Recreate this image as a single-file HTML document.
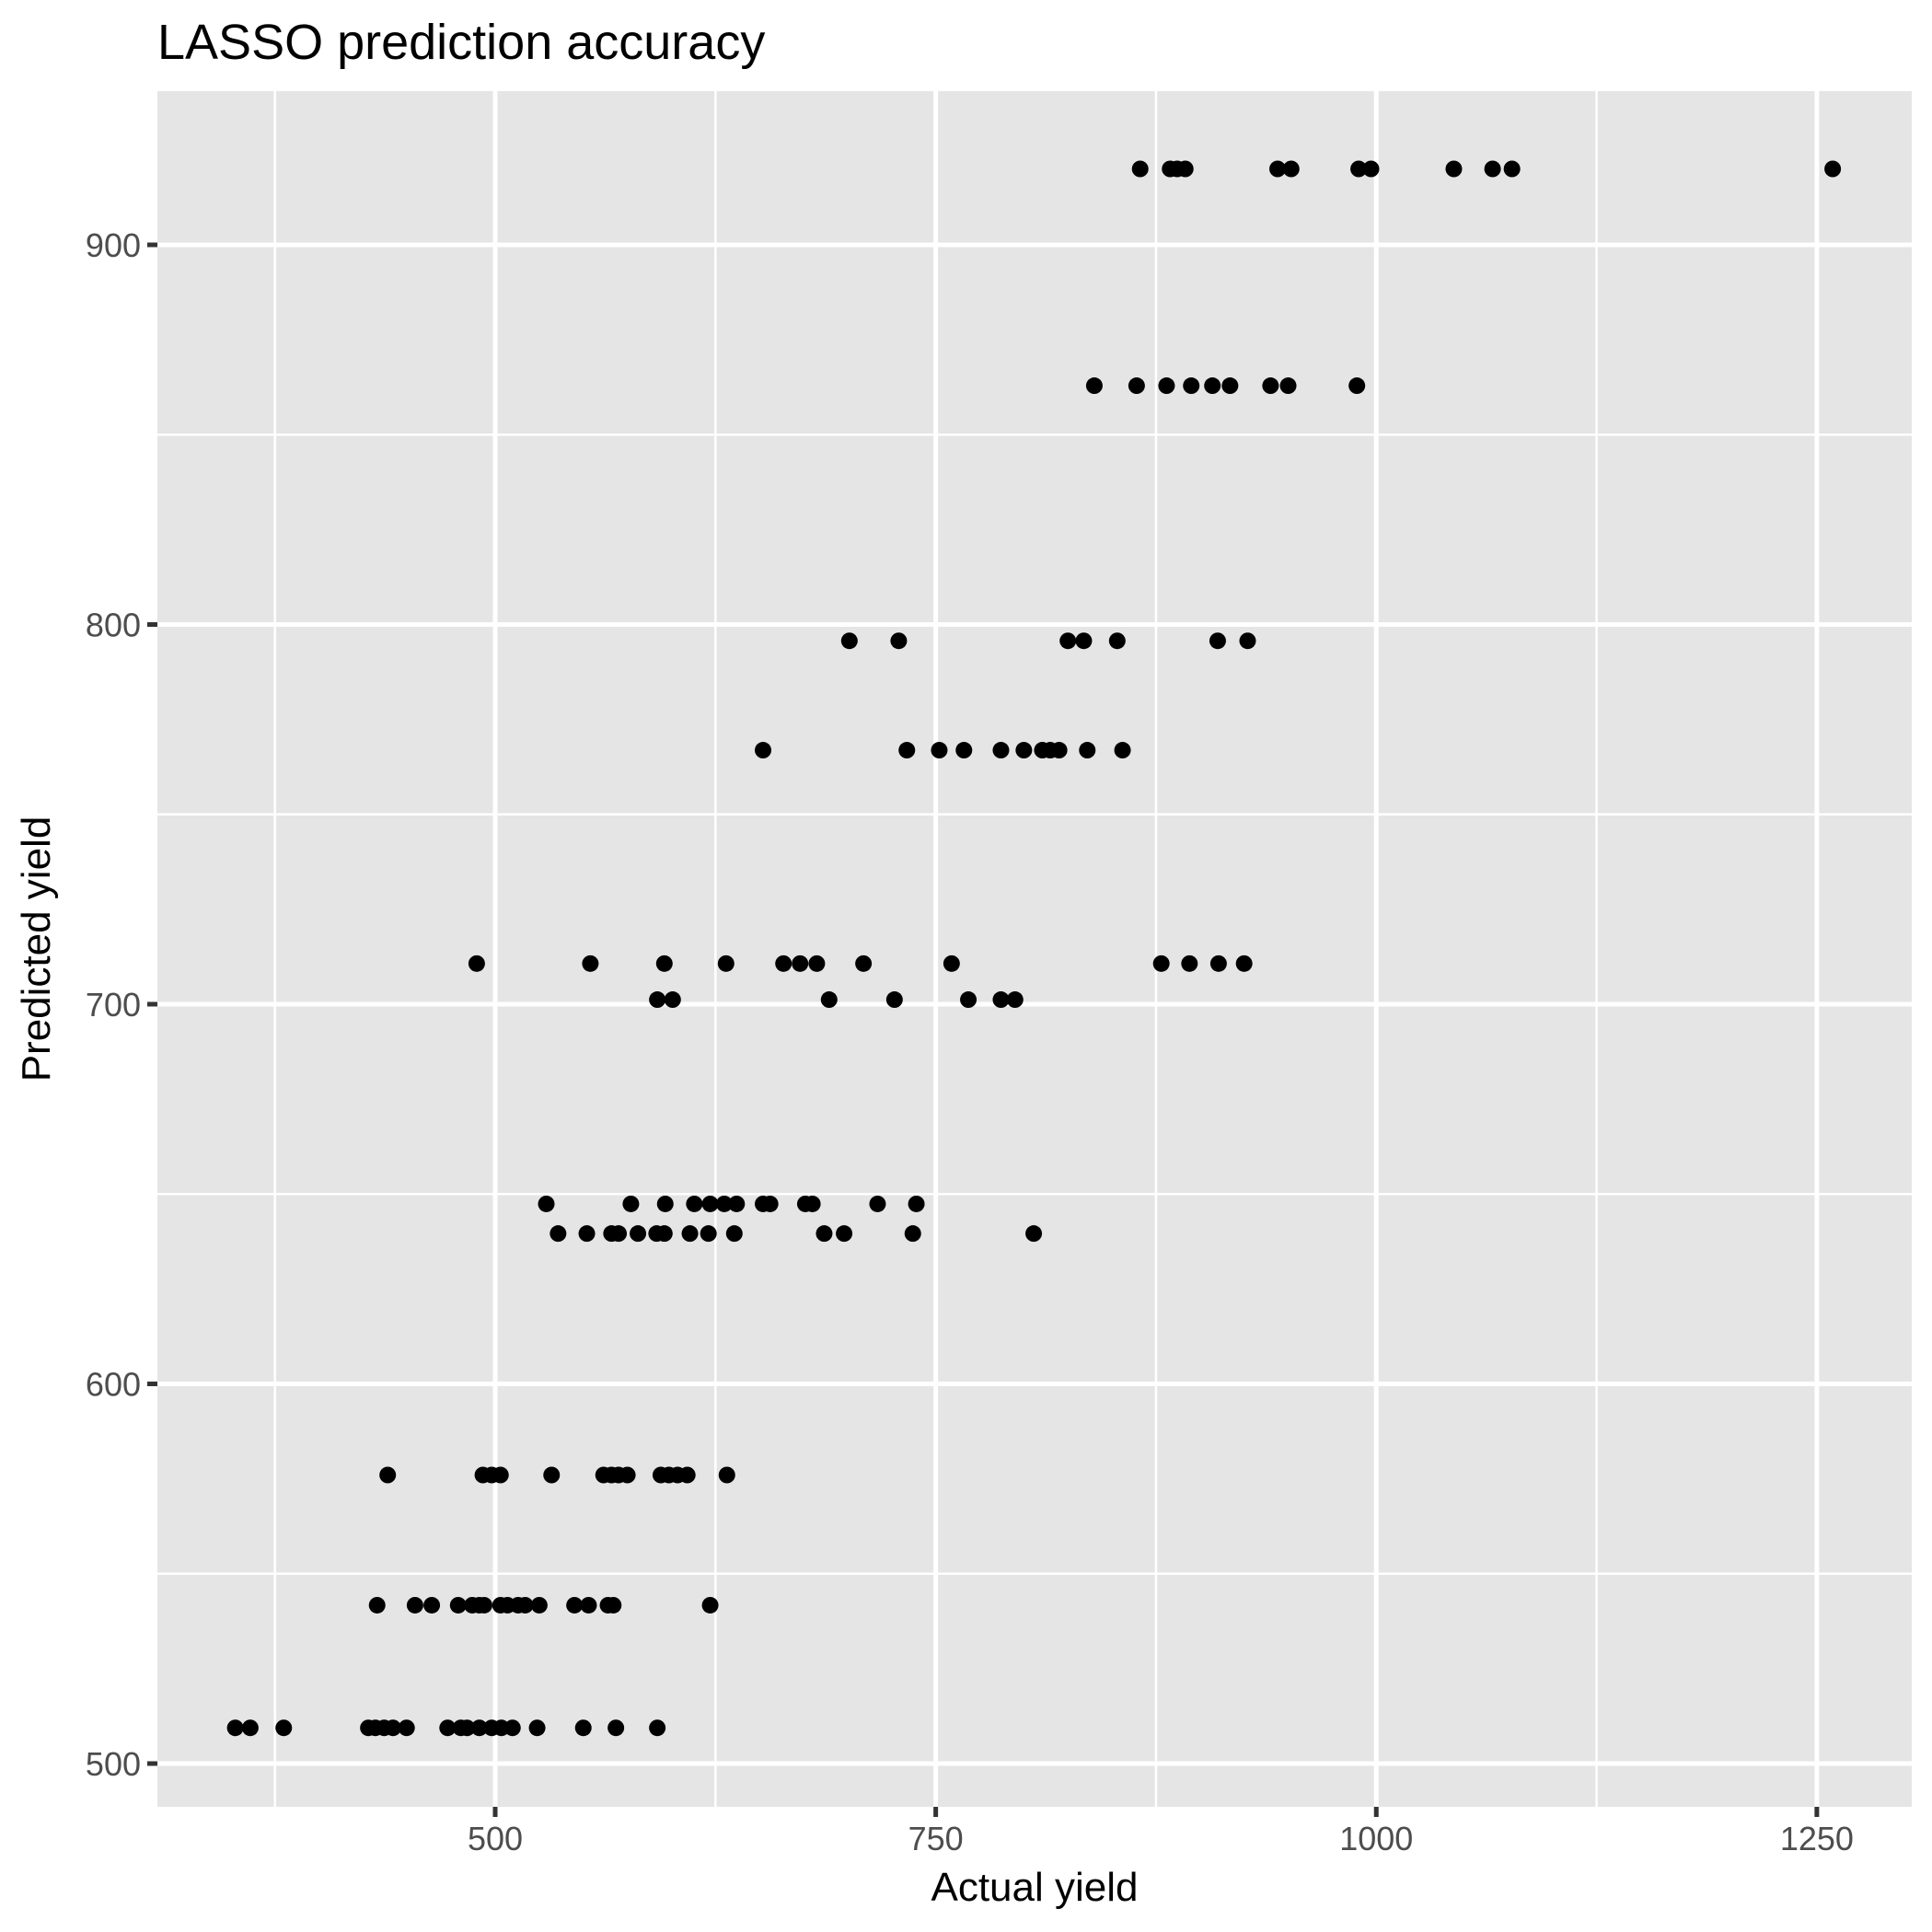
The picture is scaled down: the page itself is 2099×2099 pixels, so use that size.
<!DOCTYPE html>
<html><head><meta charset="utf-8"><style>
html,body{margin:0;padding:0;background:#fff}
svg{display:block;font-family:"Liberation Sans",Arial,sans-serif}
</style></head><body>
<svg id="chart" width="2099" height="2099" viewBox="0 0 2099 2099" xmlns="http://www.w3.org/2000/svg">
<rect x="0" y="0" width="2099" height="2099" fill="#fff"/>
<text x="171" y="64" font-size="54" fill="#000">LASSO prediction accuracy</text>
<rect x="171" y="99" width="1906" height="1864" fill="#e5e5e5"/>
<g id="grid"></g><g id="axes"></g><g id="points"></g>
<text x="1124" y="2065" font-size="44" text-anchor="middle" fill="#000">Actual yield</text>
<text transform="translate(54,1031) rotate(-90)" font-size="44" text-anchor="middle" fill="#000">Predicted yield</text>
</svg>
<script>
const xTicks=[500,750,1000,1250];
const xMinor=[375,625,875,1125];
const yTicks=[500,600,700,800,900];
const yMinor=[550,650,750,850];
const rowY=[920,862.9,795.7,766.9,710.7,701.2,647.4,639.6,576,541.7,509.4];
const row0=[866,883,887,891.6,944,951.7,990,997,1044,1066,1077,1259];
const row1=[840,864,881,895,907,917,940,950,989];
const row2=[701,729,825,834,853,910,927];
const row3=[652,733.6,752,766,787,800,810.5,815,820,836,856];
const row4=[489.5,554,596,631,663.6,673,682.5,709,759,878,894,910.5,925];
const row5=[592,600.7,689.5,726.6,768.5,787,795];
const row6=[529,577,596.5,613,622,630,637,652,656,676,680,717,739];
const row7=[535.7,552,566,570,581,591.6,596,610.5,621,635.7,686.7,698,737,805.6];
const row8=[439,493,498,503,532,561.5,566,570,575,594,598.6,603.5,609,631.5];
const row9=[433,454.5,464,479,487,491,493.7,503,507,513,517,525,545,553,564,567,622];
const row10=[352.5,361,380,428,432,437,442,449.7,473,480.5,484,491,498,503.5,509.8,523.8,550,568.5,592];
const rows=[row0,row1,row2,row3,row4,row5,row6,row7,row8,row9,row10];

const PL=171,PR=2077,PT=99,PB=1963;
const xs=v=>538+(v-500)*1.9145;
const ys=v=>266+(900-v)*4.125;
const NS="http://www.w3.org/2000/svg";
function mk(tag,attrs,parent){const e=document.createElementNS(NS,tag);for(const k in attrs)e.setAttribute(k,attrs[k]);parent.appendChild(e);return e;}
const grid=document.getElementById('grid'),axes=document.getElementById('axes'),pts=document.getElementById('points');
yMinor.forEach(v=>{const l=mk('line',{x1:PL,x2:PR,y1:ys(v),y2:ys(v),stroke:'#fff','stroke-width':2.5},grid);

});
xMinor.forEach(v=>{const l=mk('line',{x1:xs(v),x2:xs(v),y1:PT,y2:PB,stroke:'#fff','stroke-width':2.5},grid);

});
yTicks.forEach(v=>{const y=ys(v);
const l=mk('line',{x1:PL,x2:PR,y1:y,y2:y,stroke:'#fff','stroke-width':5},grid);


const t=mk('line',{x1:PL-11,x2:PL,y1:y,y2:y,stroke:'#333','stroke-width':5},axes);


const tx=mk('text',{x:PL-18,y:y+13,'font-size':36,'text-anchor':'end',fill:'#4d4d4d'},axes);tx.textContent=v;

});
xTicks.forEach(v=>{const x=xs(v);
const l=mk('line',{x1:x,x2:x,y1:PT,y2:PB,stroke:'#fff','stroke-width':5},grid);


const t=mk('line',{x1:x,x2:x,y1:PB,y2:PB+11,stroke:'#333','stroke-width':5},axes);


const tx=mk('text',{x:x,y:2010,'font-size':36,'text-anchor':'middle',fill:'#4d4d4d'},axes);tx.textContent=v;

});
rows.forEach((r,i)=>r.forEach(v=>{const c=mk('circle',{cx:xs(v),cy:ys(rowY[i]),r:9,fill:'#000'},pts);

}));
</script>
</body></html>
